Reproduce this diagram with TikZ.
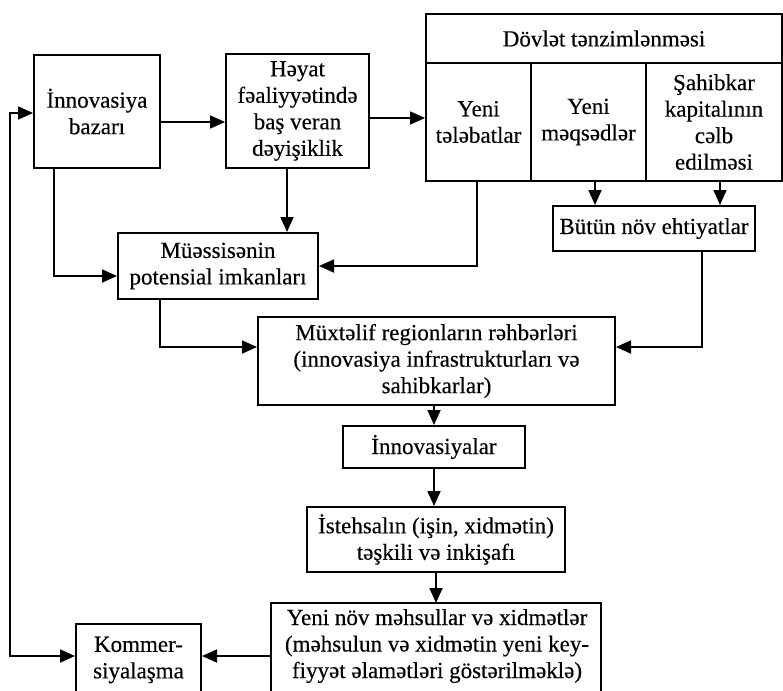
\documentclass[tikz,border=0pt]{standalone}
\usepackage{fontspec}
\setmainfont[FakeBold=0.3]{Liberation Serif}
\usetikzlibrary{arrows.meta}
\begin{document}
\begin{tikzpicture}[x=1pt,y=-1pt,
  box/.style={draw, line width=2pt, inner sep=0pt, align=center, anchor=north west,
    font=\fontsize{23}{26.5}\selectfont},
  boxline/.style={draw, line width=2pt},
  arr/.style={line width=1.8pt, -{Triangle[length=15pt,width=13pt]}},
  arrboth/.style={line width=1.8pt, {Triangle[length=15pt,width=13pt]}-{Triangle[length=15pt,width=13pt]}}]
\useasboundingbox (0,0) rectangle (783,690);
\clip (0,0) rectangle (783,690);

% boxes
\node[box, minimum width=126pt, minimum height=113pt] (innov) at (33,54) {İnnovasiya\\bazarı};
\node[box, minimum width=143pt, minimum height=114pt] (heyat) at (225,53) {Həyat\\fəaliyyətində\\baş veran\\dəyişiklik};
\node[box, minimum width=356pt, minimum height=49pt] (dov) at (425,13) {Dövlət tənzimlənməsi};
\node[box, minimum width=105pt, minimum height=118pt] (c1) at (425,62) {Yeni\\tələbatlar};
\node[box, minimum width=115pt, minimum height=118pt] (c2) at (530,62) {Yeni\\məqsədlər};
\node[box, minimum width=136pt, minimum height=118pt] (c3) at (645,62) {Şahibkar\\kapitalının\\cəlb\\edilməsi};
\node[box, minimum width=202pt, minimum height=45pt] (but) at (552,205) {Bütün növ ehtiyatlar};
\node[box, minimum width=200pt, minimum height=66pt] (mue) at (117,232) {Müəssisənin\\potensial imkanları};
\node[box, minimum width=357pt, minimum height=88pt] (mux) at (257,316) {Müxtəlif regionların rəhbərləri\\(innovasiya infrastrukturları və\\sahibkarlar)};
\node[box, minimum width=182pt, minimum height=42pt] (inn) at (342,425) {İnnovasiyalar};
\node[box, minimum width=258pt, minimum height=65pt] (ist) at (306,506) {İstehsalın (işin, xidmətin)\\təşkili və inkişafı};
\node[box, draw=none, minimum width=330pt, minimum height=84pt] (yeni) at (271,603) {Yeni növ məhsullar və xidmətlər\\(məhsulun və xidmətin yeni key-\\fiyyət əlamətləri göstərilməklə)};
\draw[boxline] (yeni.north west) rectangle ++(330,100);
\node[box, minimum width=125pt, minimum height=72pt] (kom) at (75,623) {Kommer-\\siyalaşma};

% helper coordinates
\coordinate (xl) at (10,0);
\coordinate (ytop) at (0,113);
\coordinate (ybot) at (0,656);
\coordinate (y1) at (0,122);
\coordinate (y2) at (0,118);
\coordinate (x54) at (54,0);
\coordinate (y276) at (0,276);
\coordinate (x287) at (287,0);
\coordinate (x477) at (477,0);
\coordinate (y266) at (0,266);
\coordinate (x595) at (595,0);
\coordinate (x720) at (720,0);
\coordinate (x702) at (702,0);
\coordinate (y348) at (0,347);
\coordinate (x160) at (160,0);
\coordinate (x434) at (434,0);
\coordinate (x436) at (436,0);

% connectors
\draw[arr] (innov.east |- y1) -- (heyat.west |- y1);
\draw[arr] (heyat.east |- y2) -- (c1.west |- y2);
\draw[arrboth] (innov.west |- ytop) -- (xl |- ytop) -- (xl |- ybot) -- (kom.west |- ybot);
\draw[arr] (innov.south -| x54) |- (mue.west |- y276);
\draw[arr] (heyat.south -| x287) -- (mue.north -| x287);
\draw[arr] (c1.south -| x477) |- (mue.east |- y266);
\draw[arr] (c2.south -| x595) -- (but.north -| x595);
\draw[arr] (c3.south -| x720) -- (but.north -| x720);
\draw[arr] (but.south -| x702) |- (mux.east |- y348);
\draw[arr] (mue.south -| x160) |- (mux.west |- y348);
\draw[arr] (mux.south -| x434) -- (inn.north -| x434);
\draw[arr] (inn.south -| x434) -- (ist.north -| x434);
\draw[arr] (ist.south -| x436) -- (yeni.north -| x436);
\draw[arr] (yeni.west |- ybot) -- (kom.east |- ybot);
\end{tikzpicture}
\end{document}
